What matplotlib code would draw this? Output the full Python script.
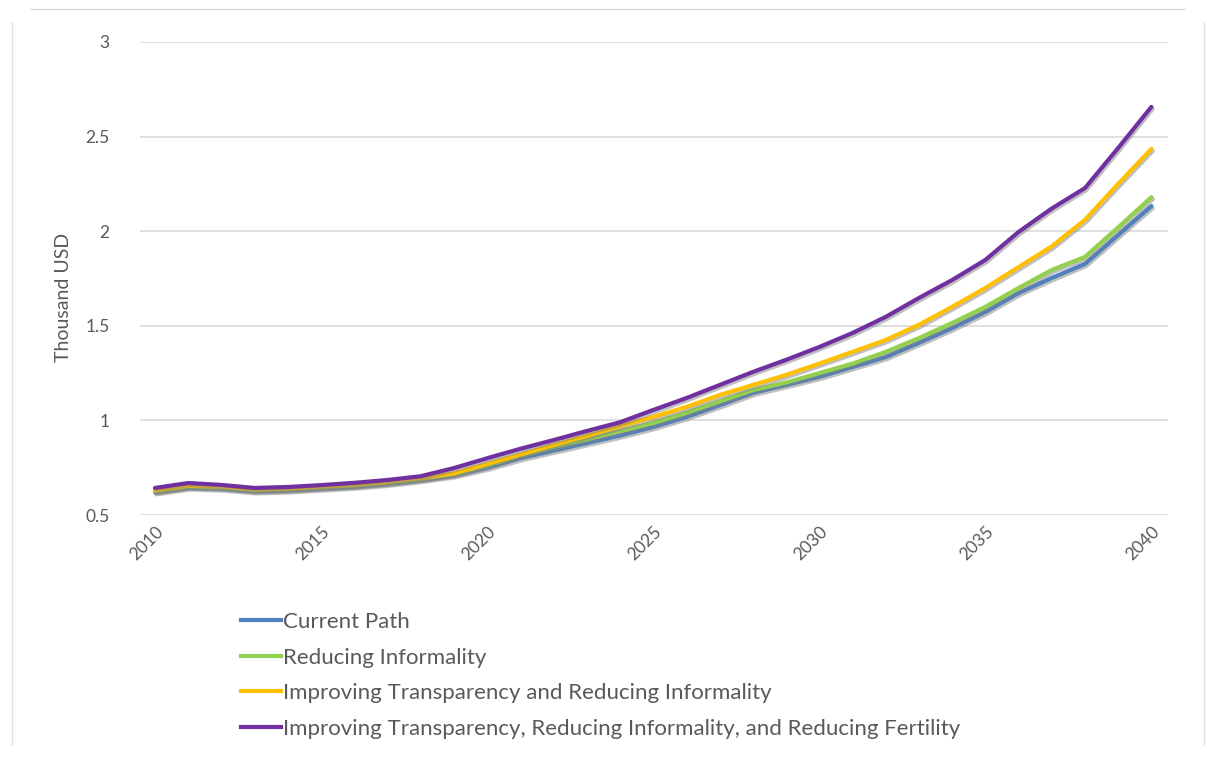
import matplotlib
matplotlib.use('Agg')
import matplotlib.pyplot as plt
import matplotlib.patheffects as pe
from matplotlib.lines import Line2D

years = list(range(2010, 2041))

current_path = [0.62, 0.645, 0.64, 0.625, 0.63, 0.64, 0.65, 0.665, 0.685, 0.71,
                0.75, 0.80, 0.84, 0.88, 0.92, 0.965, 1.018, 1.08, 1.145, 1.187,
                1.23, 1.282, 1.335, 1.41, 1.488, 1.573, 1.673, 1.753, 1.827, 1.98, 2.133]
reducing_informality = [0.625, 0.65, 0.645, 0.63, 0.635, 0.645, 0.655, 0.67, 0.69, 0.715,
                        0.76, 0.815, 0.86, 0.90, 0.944, 0.986, 1.04, 1.10, 1.16, 1.20,
                        1.25, 1.30, 1.362, 1.435, 1.515, 1.60, 1.70, 1.795, 1.864, 2.02, 2.18]
transparency_informality = [0.63, 0.655, 0.65, 0.635, 0.64, 0.65, 0.66, 0.675, 0.695, 0.72,
                            0.77, 0.82, 0.87, 0.918, 0.97, 1.018, 1.071, 1.134, 1.187, 1.24,
                            1.30, 1.362, 1.425, 1.505, 1.60, 1.70, 1.81, 1.92, 2.06, 2.25, 2.435]
transparency_informality_fertility = [0.643, 0.669, 0.659, 0.643, 0.648, 0.658, 0.67, 0.685, 0.705, 0.748,
                                      0.80, 0.85, 0.896, 0.944, 0.99, 1.055, 1.118, 1.187, 1.256, 1.32,
                                      1.388, 1.462, 1.547, 1.647, 1.742, 1.848, 1.996, 2.12, 2.228, 2.44, 2.657]

series_names = ['Current Path', 'Reducing Informality',
                'Improving Transparency and Reducing Informality',
                'Improving Transparency, Reducing Informality, and Reducing Fertility']
series_values = [current_path, reducing_informality,
                 transparency_informality, transparency_informality_fertility]
colors = ['#4F81BD', '#92D050', '#FFC000', '#7030A0']

text_color = '#595959'
plt.rcParams['font.family'] = ['Lato', 'DejaVu Sans']

fig = plt.figure(figsize=(12.07, 7.64), dpi=100)
ax = fig.add_axes([140 / 1207, 1 - 515 / 764, (1168 - 140) / 1207, (515 - 42) / 764])

shadow = [pe.SimpleLineShadow(offset=(1, -1.5), shadow_color='gray', alpha=0.5), pe.Normal()]
for name, vals, c in zip(series_names, series_values, colors):
    ax.plot(years, vals, color=c, lw=3, solid_capstyle='round', label=name,
            path_effects=shadow)

ax.set_ylim(0.5, 3)
ax.set_yticks([0.5, 1, 1.5, 2, 2.5, 3])
ax.set_yticklabels(['0.5', '1', '1.5', '2', '2.5', '3'])
ax.set_xlim(2009.55, 2040.5)
ax.set_xticks(range(2010, 2041, 5))
ax.grid(axis='y', color='#d9d9d9', lw=1.2)
ax.set_axisbelow(True)
for s in ax.spines.values():
    s.set_visible(False)
ax.tick_params(length=0, colors=text_color, labelsize=12.5)
ax.tick_params(axis='y', pad=22)
ax.tick_params(axis='x', pad=6)
for lbl in ax.get_xticklabels():
    lbl.set_rotation(45)
    lbl.set_ha('right')
    lbl.set_rotation_mode('anchor')
ax.set_ylabel('Thousand USD', color=text_color, fontsize=14, labelpad=10)
ax.yaxis.set_label_coords(-68 / 1028, 0.459)

handles = [Line2D([0], [0], color=c, lw=3) for c in colors]
fig.legend(handles, series_names, loc='upper left', bbox_to_anchor=(241 / 1207, 1 - 612 / 764),
           frameon=False, fontsize=16, handlelength=1.8, handletextpad=0.1,
           labelspacing=0.7, labelcolor=text_color, borderpad=0, borderaxespad=0)

# light frame lines around the chart
fig.add_artist(Line2D([30 / 1207, 1185 / 1207], [1 - 9 / 764, 1 - 9 / 764], color='#d9d9d9', lw=1))
fig.add_artist(Line2D([12 / 1207, 12 / 1207], [1 - 22 / 764, 1 - 745 / 764], color='#e3e3e3', lw=1))
fig.add_artist(Line2D([1204 / 1207, 1204 / 1207], [1 - 22 / 764, 1 - 745 / 764], color='#e3e3e3', lw=1))

fig.savefig('out.png', dpi=100)
